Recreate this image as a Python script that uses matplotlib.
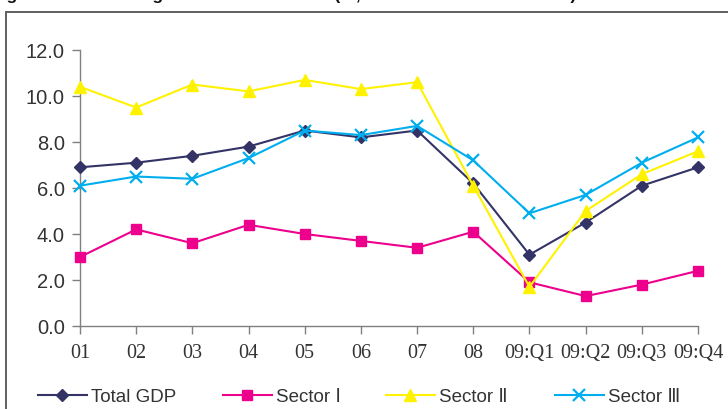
import matplotlib
matplotlib.use("Agg")
import matplotlib.pyplot as plt
from matplotlib.patches import Rectangle

periods = ["01", "02", "03", "04", "05", "06", "07", "08",
           "09:Q1", "09:Q2", "09:Q3", "09:Q4"]
total_gdp = [6.9, 7.1, 7.4, 7.8, 8.5, 8.2, 8.5, 6.2, 3.1, 4.5, 6.1, 6.9]
sector_1 = [3.0, 4.2, 3.6, 4.4, 4.0, 3.7, 3.4, 4.1, 1.9, 1.3, 1.8, 2.4]
sector_2 = [10.4, 9.5, 10.5, 10.2, 10.7, 10.3, 10.6, 6.1, 1.7, 5.0, 6.6, 7.6]
sector_3 = [6.1, 6.5, 6.4, 7.3, 8.5, 8.3, 8.7, 7.2, 4.9, 5.7, 7.1, 8.2]
y_ticks = [0.0, 2.0, 4.0, 6.0, 8.0, 10.0, 12.0]

series = [
    ("Total GDP", total_gdp, "#333366", "D", 6.5),
    ("Sector Ⅰ", sector_1, "#ec008c", "s", 7.5),
    ("Sector Ⅱ", sector_2, "#fff200", "^", 9),
    ("Sector Ⅲ", sector_3, "#00aeef", "x", 9),
]
# left edge of each legend entry, in pixels
legend_x = [38, 223, 386, 555]

plt.rcParams["font.family"] = ["Liberation Sans", "DejaVu Sans"]

W, H = 728, 409
fig = plt.figure(figsize=(W / 100, H / 100), dpi=100)

# outer frame of the exhibit
fig.patches.append(Rectangle((5.5 / W, -0.1), 1.2, 1 - 12.5 / H + 0.1,
                             transform=fig.transFigure, fill=False,
                             edgecolor="#606060", linewidth=1.4))

# title line sitting above the frame
fig.text(-0.012, 1 + 0.5 / H,
         "Figure 3  Real GDP growth of the sectors (%, 2001–2009 in Real Terms)",
         fontsize=12.5, fontweight="bold", color="#111111",
         ha="left", va="baseline")

ax = fig.add_axes([80 / W, 1 - 326 / H, 618 / W, 276 / H])
x = list(range(len(periods)))
handles = []
for name, vals, color, marker, ms in series:
    mew = 1.6 if marker == "x" else 1.0
    (ln,) = ax.plot(x, vals, color=color, linewidth=1.5, marker=marker,
                    markersize=ms, markeredgewidth=mew, label=name,
                    clip_on=False, zorder=3)
    handles.append(ln)

ax.set_xlim(0, len(periods) - 1)
ax.set_ylim(0, 12)
ax.set_yticks(y_ticks)
ax.set_yticklabels([f"{v:.1f}" for v in y_ticks], fontsize=14.5, color="#333333")
ax.set_xticks(x)
ax.set_xticklabels(periods, fontsize=14.5, color="#333333",
                   family=["Liberation Serif", "DejaVu Serif"])
for side in ("top", "right"):
    ax.spines[side].set_visible(False)
for side in ("left", "bottom"):
    ax.spines[side].set_color("#808080")
    ax.spines[side].set_linewidth(1.0)
ax.tick_params(axis="y", direction="out", length=6, width=1.0, color="#808080", pad=5)
ax.tick_params(axis="x", direction="out", length=6, width=1.0, color="#808080", pad=7)
ax.patch.set_alpha(0)

# one legend entry per series, each at its own position along the bottom row
for h, lx in zip(handles, legend_x):
    fig.legend(handles=[h], loc="center left",
               bbox_to_anchor=(lx / W, 1 - 397 / H), frameon=False,
               borderpad=0, borderaxespad=0,
               prop={"size": 13.5},
               handlelength=2.6, handletextpad=0.25,
               labelcolor="#333333")

fig.savefig("out.png", dpi=100)
